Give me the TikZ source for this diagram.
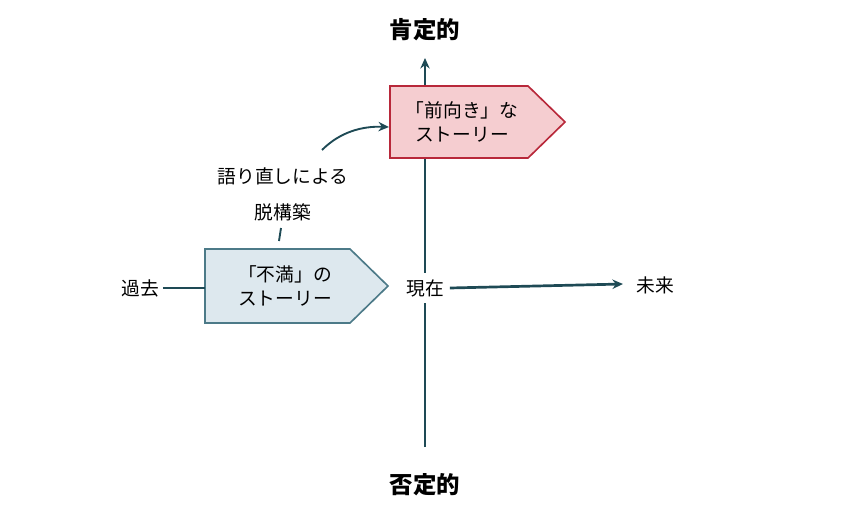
\documentclass[tikz,border=0pt]{standalone}
\usepackage{fontspec}
\setmainfont{Noto Sans CJK JP}
\usetikzlibrary{arrows.meta}
\definecolor{axis}{HTML}{1E4A55}
\definecolor{redfill}{HTML}{F5CDD0}
\definecolor{redline}{HTML}{B8283A}
\definecolor{bluefill}{HTML}{DDE8EE}
\definecolor{blueline}{HTML}{4C7A88}
\tikzset{
    axisline/.style={draw=axis, line width=2.3pt, -{Stealth[length=9pt,width=8pt]}},
    storytext/.style={align=center, font=\fontsize{16}{21}\selectfont},
    label/.style={font=\fontsize{16}{20}\selectfont},
    head/.style={font=\bfseries\fontsize{20}{24}\selectfont}
}
\begin{document}
\begin{tikzpicture}[x=0.03cm, y=-0.03cm]
    \useasboundingbox (0,0) rectangle (846,510);
    \node[head] (pos) at (425,30) {肯定的};
    \node[head] (neg) at (425,485) {否定的};
    \node[label] (past) at (140,288) {過去};
    \node[label] (future) at (655,285) {未来};
    \coordinate (top) at (425,58);
    \coordinate (bottom) at (425,447);
    \coordinate (right) at (623,284);

    \draw[axisline] (bottom) -- (top);
    \node[label, fill=white, inner sep=5pt] (now) at (425,288) {現在};
    \draw[axisline] (now.east) -- (right);

    % story boxes
    \draw[fill=redfill, draw=redline, line width=1.4pt]
        (390,86) -- (528,86) -- (565,122) -- (528,158) -- (390,158) -- cycle;
    \node[storytext] (fwd) at (462,122) {「前向き」な\\ストーリー};
    \draw[fill=bluefill, draw=blueline, line width=1.4pt]
        (205,249) -- (350,249) -- (388,286) -- (350,323) -- (205,323) -- cycle;
    \coordinate (disin) at (205,288);
    \node[storytext] (dis) at (285,286) {「不満」の\\ストーリー};
    \draw[draw=axis, line width=2.3pt] (past.east) -- (disin);

    \node[label] (retell) at (283,176) {語り直しによる};
    \node[label] (decon) at (283,212) {脱構築};
    \coordinate (cs) at (322,150);
    \coordinate (ce) at (389,127);
    \draw[draw=axis, line width=1.6pt] (281,228) -- (279,241);
    \draw[axisline, line width=1.6pt] (cs) .. controls (340,132) and (362,126) .. (ce);
\end{tikzpicture}
\end{document}
